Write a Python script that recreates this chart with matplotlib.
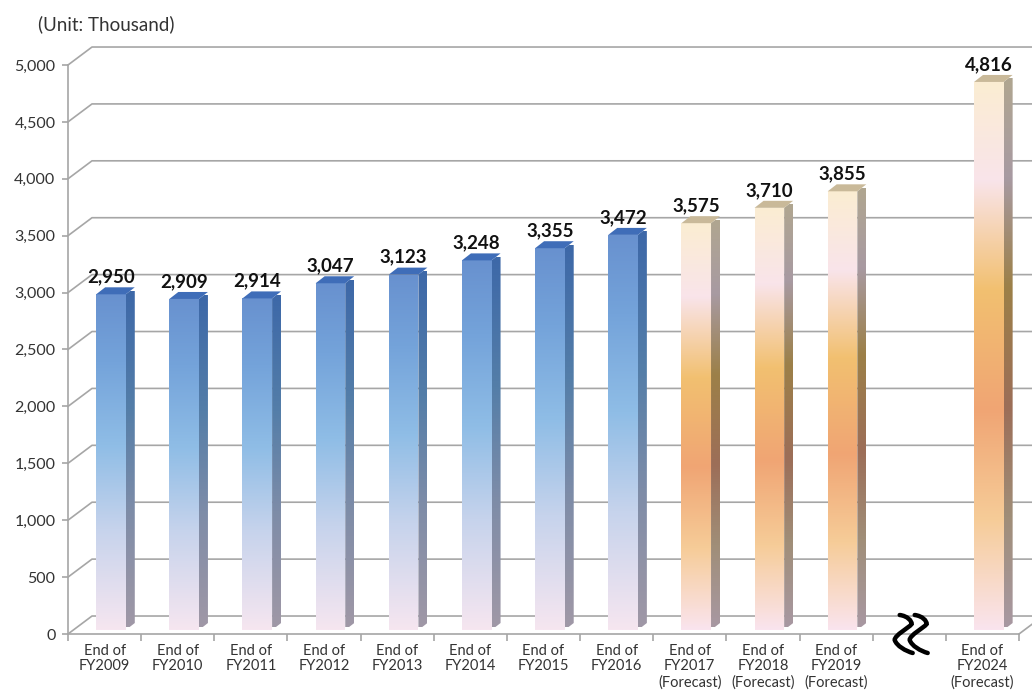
import matplotlib
matplotlib.use("Agg")
import matplotlib.pyplot as plt
import numpy as np
from matplotlib.colors import LinearSegmentedColormap
from matplotlib.patches import Polygon, PathPatch
from matplotlib.path import Path

plt.rcParams["font.family"] = ["Lato", "DejaVu Sans"]

# data
years = ["2009", "2010", "2011", "2012", "2013", "2014", "2015", "2016",
         "2017", "2018", "2019", "2024"]
values = [2950, 2909, 2914, 3047, 3123, 3248, 3355, 3472, 3575, 3710, 3855, 4816]
forecast = [False] * 8 + [True] * 4
slots = [0, 1, 2, 3, 4, 5, 6, 7, 8, 9, 10, 12]   # slot 11 = axis break
break_slot = 11
n_slots = 13
yticks = np.arange(0, 5001, 500)

# geometry (data units)
WALL_DX, WALL_DY = 0.328, 158      # depth of back wall
BAR_DX, BAR_DY = 0.123, 61.5       # depth of bars
BAR_OFF, BAR_W, BAR_BASE = 0.385, 0.405, 35

blue_front = LinearSegmentedColormap.from_list("bf", [
    (0.0, "#f6e6f0"), (0.3, "#c6d3ec"), (0.55, "#8fbde6"), (0.8, "#74a3da"), (1.0, "#6891cf")])
blue_side = LinearSegmentedColormap.from_list("bs", [
    (0.0, "#a098a6"), (0.35, "#7d8ca8"), (0.65, "#547ea8"), (1.0, "#3d68a8")])
orange_front = LinearSegmentedColormap.from_list("of", [
    (0.0, "#fae4ee"), (0.2, "#f6cc98"), (0.4, "#f0a574"), (0.62, "#f2c070"),
    (0.82, "#f9e4ea"), (1.0, "#fbedd2")])
orange_side = LinearSegmentedColormap.from_list("os", [
    (0.0, "#a898a2"), (0.2, "#a08e78"), (0.4, "#9c6e58"), (0.62, "#9c8048"),
    (0.82, "#a89aa2"), (1.0, "#b0a690")])
blue_top, orange_top = "#3f6db8", "#c9b999"
grid_c = "#a6a6a6"

fig = plt.figure(figsize=(10.32, 6.97), dpi=100)
ax = fig.add_axes([68 / 1032, 63 / 697, 951 / 1032, 569 / 697])
ax.set_facecolor("none")

# walls / gridlines
x_right = n_slots + 0.5
for v in yticks:
    ax.plot([0, WALL_DX, x_right], [v, v + WALL_DY, v + WALL_DY],
            color=grid_c, lw=1.2, clip_on=False, zorder=1)
ax.plot([n_slots, n_slots + WALL_DX], [0, WALL_DY], color=grid_c, lw=1.2,
        clip_on=False, zorder=1)


def grad_face(xy, cmap, y0, y1):
    poly = Polygon(xy, closed=True, transform=ax.transData)
    xs, ys = zip(*xy)
    grad = np.linspace(0, 1, 256).reshape(-1, 1)
    im = ax.imshow(grad, cmap=cmap, aspect="auto", origin="lower",
                   extent=[min(xs), max(xs), y0, y1], zorder=3,
                   interpolation="bilinear")
    im.set_clip_path(poly)


for s, v, fc in zip(slots, values, forecast):
    x0 = s + BAR_OFF
    x1 = x0 + BAR_W
    b, t = BAR_BASE, v + BAR_BASE
    grad_face([(x0, b), (x1, b), (x1, t), (x0, t)],
              orange_front if fc else blue_front, b, t)
    grad_face([(x1, b), (x1 + BAR_DX, b + BAR_DY), (x1 + BAR_DX, t + BAR_DY), (x1, t)],
              orange_side if fc else blue_side, b + BAR_DY * 0.5, t + BAR_DY * 0.5)
    ax.add_patch(Polygon([(x0, t), (x1, t), (x1 + BAR_DX, t + BAR_DY), (x0 + BAR_DX, t + BAR_DY)],
                         closed=True, facecolor=orange_top if fc else blue_top,
                         edgecolor="none", zorder=4))
    ax.text((x0 + x1) / 2, t + BAR_DY + 18, f"{v:,}", ha="center", va="bottom",
            fontsize=13.5, fontweight="bold", color="#111111", zorder=5)

# axis break symbol
px, py = 1 / 73.15, 1 / 0.1138
for k in range(2):
    ox = break_slot + (900 - 873) * px + k * 15 * px
    oy = -(615 - 634) * py
    verts = [(0, 0), (8, -1), (12, -6), (12, -9),
             (9, -13), (-5, -20), (-5, -25),
             (-3, -31), (6, -36), (13, -38)]
    codes = [Path.MOVETO, Path.CURVE4, Path.CURVE4, Path.CURVE4,
             Path.CURVE4, Path.CURVE4, Path.CURVE4,
             Path.CURVE4, Path.CURVE4, Path.CURVE4]
    pts = [(ox + dx * px, oy + dy * py) for dx, dy in verts]
    ax.add_patch(PathPatch(Path(pts, codes), facecolor="none", edgecolor="black",
                           lw=3.2, capstyle="round", zorder=6, clip_on=False))

# axes styling
ax.set_xlim(0, n_slots)
ax.set_ylim(0, 5000)
for side in ["top", "right"]:
    ax.spines[side].set_visible(False)
for side in ["left", "bottom"]:
    ax.spines[side].set_color(grid_c)
    ax.spines[side].set_linewidth(1.2)
    ax.spines[side].set_zorder(2)

ax.set_yticks(yticks)
ax.set_yticklabels([f"{v:,}" for v in yticks], fontsize=11.5, color="#333333")
ax.tick_params(axis="y", length=4, color=grid_c, width=1.2, pad=5)

ax.set_xticks(np.arange(n_slots + 1), minor=True)
ax.set_xticks([s + 0.5 for s in range(n_slots)])
labels = []
for s in range(n_slots):
    if s in slots:
        i = slots.index(s)
        lab = f"End of\nFY{years[i]}"
        if forecast[i]:
            lab += "\n(Forecast)"
        labels.append(lab)
    else:
        labels.append("")
ax.set_xticklabels(labels, fontsize=10.5, color="#333333", linespacing=1.15, va="top")
ax.tick_params(axis="x", which="major", length=0, pad=7)
ax.tick_params(axis="x", which="minor", length=5, color=grid_c, width=1.2)

fig.text(38 / 1032, 1 - 24 / 697, "(Unit: Thousand)", fontsize=13.5, color="#333333",
         va="center", ha="left")

fig.savefig("out.png", dpi=100)
